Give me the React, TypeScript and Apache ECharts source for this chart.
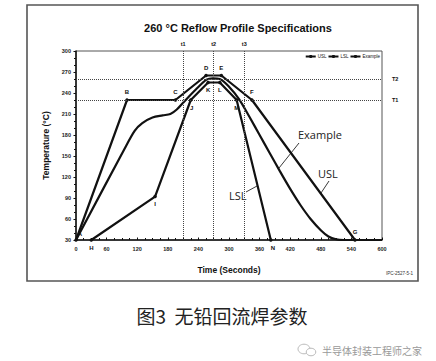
import React, { useEffect, useRef } from "react";
import * as echarts from "echarts";

const uslTime = [0, 100, 195, 255, 285, 345, 547];
const uslTemp = [30, 230, 230, 265, 265, 230, 30];
const uslLabels = ["A", "B", "C", "D", "E", "F", "G"];

const lslTime = [30, 155, 225, 259, 282, 315, 382];
const lslTemp = [30, 92, 230, 255, 255, 230, 30];
const lslLabels = ["H", "I", "J", "K", "L", "M", "N"];

const exampleTime = [0, 95, 115, 130, 150, 170, 185, 197, 215, 235, 256, 268, 282, 300, 320, 340, 360, 380, 400, 420, 440, 460, 480, 495, 510, 525, 600];
const exampleTemp = [30, 160, 186, 197, 205, 208, 210, 216, 230, 245, 259, 261, 260, 249, 231, 206, 180, 154, 128, 103, 80, 60, 44, 35, 31, 30, 30];

const timeMarks = [210, 270, 330];
const timeMarkLabels = ["t1", "t2", "t3"];
const tempMarks = [230, 260];
const tempMarkLabels = ["T1", "T2"];

const seriesNames = ["USL", "LSL", "Example"];

const labelPos: Record<string, any> = {
  A: { position: "right", offset: [-3, -6] },
  B: { position: "top" },
  C: { position: "top" },
  D: { position: "top" },
  E: { position: "top" },
  F: { position: "top" },
  G: { position: "top" },
  H: { position: "bottom" },
  I: { position: "bottom" },
  J: { position: "bottom", offset: [1, 0] },
  K: { position: "bottom" },
  L: { position: "bottom" },
  M: { position: "bottom" },
  N: { position: "bottom", offset: [2, 0] },
};

const pointLabelStyle = {
  show: true,
  fontSize: 6,
  fontWeight: "bold" as const,
  color: "#111",
  fontFamily: "Liberation Sans",
  distance: 3,
};

function buildPoints(times: number[], temps: number[], labels: string[]) {
  return times.map((t, i) => ({
    value: [t, temps[i]],
    label: { ...pointLabelStyle, formatter: labels[i], ...labelPos[labels[i]] },
  }));
}

export default function App() {
  const ref = useRef<HTMLDivElement>(null);
  useEffect(() => {
    document.body.style.margin = "0";
    if (!ref.current) return;
    const chart = echarts.init(ref.current, undefined, { renderer: "svg" });
    const tickFont = { fontSize: 5.5, fontWeight: "bold" as const, color: "#222", fontFamily: "Liberation Sans" };
    const lineStyle = { color: "#111", width: 2.2 };
    chart.setOption({
      animation: false,
      backgroundColor: "#fff",
      title: {
        text: "260 °C Reflow Profile Specifications",
        left: 233,
        top: 17,
        textAlign: "center",
        textStyle: { fontSize: 11, fontWeight: "bold", color: "#111", fontFamily: "Liberation Sans" },
      },
      legend: {
        data: seriesNames,
        right: 56,
        top: 54,
        itemWidth: 10,
        itemHeight: 4,
        itemGap: 1,
        padding: 0,
        textStyle: { fontSize: 4.5, color: "#111", fontFamily: "Liberation Sans", padding: [0, 0, 0, -3] },
      },
      grid: {
        left: 76,
        top: 51,
        right: 54,
        bottom: 121,
        show: true,
        borderColor: "#555",
        borderWidth: 1,
      },
      xAxis: {
        type: "value",
        min: 0,
        max: 600,
        interval: 60,
        name: "Time (Seconds)",
        nameLocation: "middle",
        nameGap: 25,
        nameTextStyle: { fontSize: 8.5, fontWeight: "bold", color: "#111", fontFamily: "Liberation Sans" },
        axisLine: { lineStyle: { color: "#111", width: 1.5 } },
        axisTick: { inside: true, length: 2.5, lineStyle: { color: "#111" } },
        minorTick: { show: true, splitNumber: 4, length: 2, lineStyle: { color: "#111" } },
        axisLabel: { ...tickFont, margin: 6 },
        splitLine: { show: false },
      },
      yAxis: {
        type: "value",
        min: 30,
        max: 300,
        interval: 30,
        name: "Temperature (°C)",
        nameLocation: "middle",
        nameGap: 19,
        nameTextStyle: { fontSize: 8.5, fontWeight: "bold", color: "#111", fontFamily: "Liberation Sans" },
        axisLine: { show: true, lineStyle: { color: "#111", width: 1.5 } },
        axisTick: { show: true, inside: false, length: 2.5, lineStyle: { color: "#111" } },
        minorTick: { show: true, splitNumber: 3, length: 2, lineStyle: { color: "#111" } },
        axisLabel: { ...tickFont, margin: 5 },
        splitLine: { show: false },
      },
      series: [
        {
          name: "USL",
          type: "line",
          data: buildPoints(uslTime, uslTemp, uslLabels),
          symbol: "circle",
          symbolSize: 3.5,
          itemStyle: { color: "#111" },
          lineStyle,
          z: 3,
          markLine: {
            silent: true,
            symbol: "none",
            lineStyle: { type: "dotted", color: "#444", width: 1 },
            label: { fontSize: 5.5, fontWeight: "bold", color: "#111", fontFamily: "Liberation Sans" },
            data: [
              ...timeMarks.map((t, i) => ({
                xAxis: t,
                label: { formatter: timeMarkLabels[i], position: "end", distance: 4 },
              })),
              ...tempMarks.map((v, i) => ({
                yAxis: v,
                label: { formatter: tempMarkLabels[i], position: "end", distance: 10 },
              })),
            ],
          },
        },
        {
          name: "LSL",
          type: "line",
          data: buildPoints(lslTime, lslTemp, lslLabels),
          symbol: "circle",
          symbolSize: 3.5,
          itemStyle: { color: "#111" },
          lineStyle,
          z: 3,
        },
        {
          name: "Example",
          type: "line",
          data: exampleTime.map((t, i) => [t, exampleTemp[i]]),
          symbol: "none",
          smooth: 0.3,
          itemStyle: { color: "#111" },
          lineStyle,
          z: 3,
        },
      ],
      graphic: [
        { type: "rect", shape: { x: 27, y: 5, width: 391, height: 276 }, style: { fill: "none", stroke: "#555", lineWidth: 1.6 }, silent: true },
        { type: "text", x: 298, y: 134, style: { text: "Example", fontSize: 11, fontFamily: "Open Sans", fill: "#222", verticalAlign: "middle" } },
        { type: "line", shape: { x1: 299, y1: 143, x2: 279, y2: 168 }, style: { stroke: "#222", lineWidth: 0.9 } },
        { type: "text", x: 318, y: 173, style: { text: "USL", fontSize: 11, fontFamily: "Open Sans", fill: "#222", verticalAlign: "middle" } },
        { type: "line", shape: { x1: 329, y1: 181, x2: 321, y2: 193 }, style: { stroke: "#222", lineWidth: 0.9 } },
        { type: "text", x: 229, y: 195, style: { text: "LSL", fontSize: 11, fontFamily: "Open Sans", fill: "#222", verticalAlign: "middle" } },
        { type: "line", shape: { x1: 246, y1: 192, x2: 257, y2: 186 }, style: { stroke: "#222", lineWidth: 0.9 } },
        { type: "text", x: 413, y: 273, style: { text: "IPC-2527-5-1", fontSize: 4.5, fontFamily: "Liberation Sans", fill: "#333", align: "right", verticalAlign: "middle" } },
        { type: "text", x: 222, y: 315, style: { text: "图3  无铅回流焊参数", fontSize: 19, fontFamily: "Noto Sans CJK SC", fill: "#222", align: "center", verticalAlign: "middle" } },
        { type: "ellipse", shape: { cx: 304, cy: 349, rx: 6, ry: 4.8 }, style: { fill: "none", stroke: "#bbb", lineWidth: 1 } },
        { type: "ellipse", shape: { cx: 311, cy: 352, rx: 4.8, ry: 3.8 }, style: { fill: "#fff", stroke: "#bbb", lineWidth: 1 } },
        { type: "text", x: 322, y: 350, style: { text: "半导体封装工程师之家", fontSize: 10, fontFamily: "Noto Sans CJK SC", fill: "#999", verticalAlign: "middle" } },
      ],
    });
    return () => chart.dispose();
  }, []);
  return <div ref={ref} style={{ width: 436, height: 361 }} />;
}
